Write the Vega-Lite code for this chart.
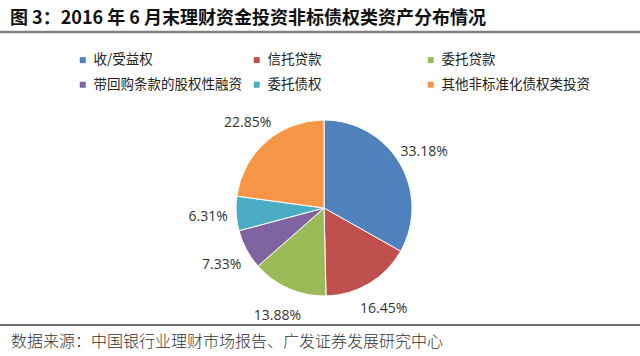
{
  "$schema": "https://vega.github.io/schema/vega-lite/v6.json",
  "width": 640,
  "height": 356,
  "autosize": {"type": "none"},
  "padding": 0,
  "background": "white",
  "config": {"view": {"stroke": null}},
  "data": {"values": [
    {"idx": 1, "category": "收/受益权", "value": 0.3318},
    {"idx": 2, "category": "信托贷款", "value": 0.1645},
    {"idx": 3, "category": "委托贷款", "value": 0.1388},
    {"idx": 4, "category": "带回购条款的股权性融资", "value": 0.0733},
    {"idx": 5, "category": "委托债权", "value": 0.0631},
    {"idx": 6, "category": "其他非标准化债权类投资", "value": 0.2285}
  ]},
  "layer": [
    {
      "mark": {"type": "arc", "outerRadius": 88, "x": 324, "y": 208, "stroke": "#ffffff", "strokeWidth": 1},
      "encoding": {
        "theta": {"field": "value", "type": "quantitative", "stack": true},
        "order": {"field": "idx", "type": "quantitative"},
        "color": {
          "field": "category", "type": "nominal",
          "scale": {
            "domain": ["收/受益权", "信托贷款", "委托贷款", "带回购条款的股权性融资", "委托债权", "其他非标准化债权类投资"],
            "range": ["#4F81BD", "#C0504D", "#9BBB59", "#8064A2", "#4BACC6", "#F79646"]
          },
          "legend": {
            "title": null,
            "orient": "none",
            "legendX": 76,
            "legendY": 53,
            "direction": "horizontal",
            "columns": 3,
            "gridAlign": "all",
            "columnPadding": 8,
            "rowPadding": 10,
            "padding": 0,
            "symbolType": "square",
            "symbolSize": 36,
            "symbolStrokeWidth": 0,
            "labelOffset": 4,
            "labelFont": "Noto Sans CJK SC",
            "labelFontSize": 13.5,
            "labelColor": "#222222",
            "labelLimit": 300
          }
        }
      }
    },
    {
      "mark": {"type": "text", "radius": 116, "x": 324, "y": 208, "dy": 2, "font": "Open Sans", "fontSize": 14, "color": "#333333"},
      "encoding": {
        "theta": {"field": "value", "type": "quantitative", "stack": true},
        "order": {"field": "idx", "type": "quantitative"},
        "text": {"field": "value", "type": "quantitative", "format": ".2%"}
      }
    },
    {
      "data": {"values": [{"t": "图 3：2016 年 6 月末理财资金投资非标债权类资产分布情况"}]},
      "mark": {"type": "text", "align": "left", "baseline": "middle", "font": "Noto Sans CJK SC", "fontSize": 18, "fontWeight": "bold", "color": "#111111"},
      "encoding": {"text": {"field": "t"}, "x": {"value": 10}, "y": {"value": 19}}
    },
    {
      "data": {"values": [{"t": "数据来源：中国银行业理财市场报告、广发证券发展研究中心"}]},
      "mark": {"type": "text", "align": "left", "baseline": "middle", "font": "Noto Sans CJK SC", "fontSize": 16, "fontWeight": 300, "color": "#333333"},
      "encoding": {"text": {"field": "t"}, "x": {"value": 11}, "y": {"value": 342}}
    },
    {
      "data": {"values": [{}]},
      "mark": {"type": "rule", "color": "#808080", "strokeWidth": 2.5},
      "encoding": {"x": {"value": 0}, "x2": {"value": 640}, "y": {"value": 32}}
    },
    {
      "data": {"values": [{}]},
      "mark": {"type": "rule", "color": "#404040", "strokeWidth": 1.5},
      "encoding": {"x": {"value": 0}, "x2": {"value": 640}, "y": {"value": 325}}
    }
  ]
}
